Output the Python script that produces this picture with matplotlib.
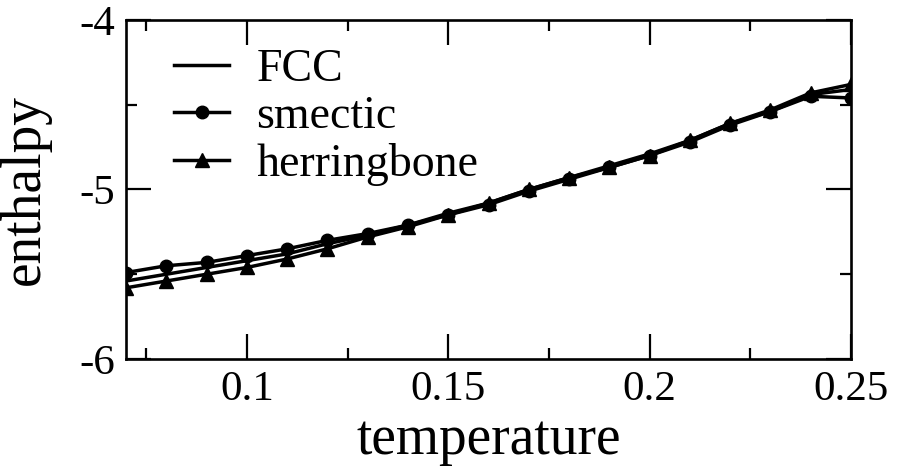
import matplotlib
matplotlib.use('Agg')
import matplotlib.pyplot as plt
from matplotlib.ticker import MultipleLocator, FuncFormatter

plt.rcParams['font.family'] = ['Liberation Serif', 'DejaVu Serif']

# enthalpy vs temperature for the three phases
temperature = [0.07, 0.08, 0.09, 0.10, 0.11, 0.12, 0.13, 0.14, 0.15, 0.16,
               0.17, 0.18, 0.19, 0.20, 0.21, 0.22, 0.23, 0.24, 0.25]
fcc = [-5.54, -5.50, -5.46, -5.42, -5.38, -5.32, -5.27, -5.21, -5.14, -5.08,
       -5.00, -4.93, -4.86, -4.79, -4.71, -4.61, -4.54, -4.44, -4.41]
smectic = [-5.49, -5.45, -5.43, -5.39, -5.35, -5.30, -5.26, -5.21, -5.15, -5.09,
           -5.01, -4.94, -4.87, -4.80, -4.72, -4.62, -4.54, -4.45, -4.46]
herringbone = [-5.58, -5.54, -5.50, -5.46, -5.41, -5.35, -5.28, -5.22, -5.15, -5.08,
               -5.00, -4.93, -4.87, -4.80, -4.71, -4.61, -4.53, -4.43, -4.38]

fig = plt.figure(figsize=(8.99, 4.74), dpi=100)
ax = fig.add_axes([126 / 899, 1 - 359 / 474, (851 - 126) / 899, (359 - 20) / 474])

ax.plot(temperature, fcc, color='black', lw=2.5, label='FCC')
ax.plot(temperature, smectic, color='black', lw=2.5, marker='o', ms=9, label='smectic')
ax.plot(temperature, herringbone, color='black', lw=2.5, marker='^', ms=10, label='herringbone')

ax.set_xlim(0.07, 0.25)
ax.set_ylim(-6, -4)
ax.xaxis.set_major_locator(MultipleLocator(0.05))
ax.xaxis.set_minor_locator(MultipleLocator(0.025))
ax.yaxis.set_major_locator(MultipleLocator(1))
ax.yaxis.set_minor_locator(MultipleLocator(0.5))
ax.xaxis.set_major_formatter(FuncFormatter(lambda v, p: '%g' % round(v, 3)))
ax.yaxis.set_major_formatter(FuncFormatter(lambda v, p: '%d' % round(v)))

ax.tick_params(which='both', direction='in', top=True, right=True, width=1.6, colors='black')
ax.tick_params(which='major', length=18, labelsize=31, pad=8)
ax.tick_params(which='minor', length=8)
for s in ax.spines.values():
    s.set_linewidth(1.9)

ax.set_xlabel('temperature', fontsize=40, labelpad=4)
ax.set_ylabel('enthalpy', fontsize=40, labelpad=20)

ax.legend(loc='upper left', frameon=False, fontsize=33, handlelength=1.2,
          handletextpad=0.6, labelspacing=0.1, borderaxespad=0.3,
          bbox_to_anchor=(0.022, 1.01))

fig.savefig('out.png', dpi=100)
